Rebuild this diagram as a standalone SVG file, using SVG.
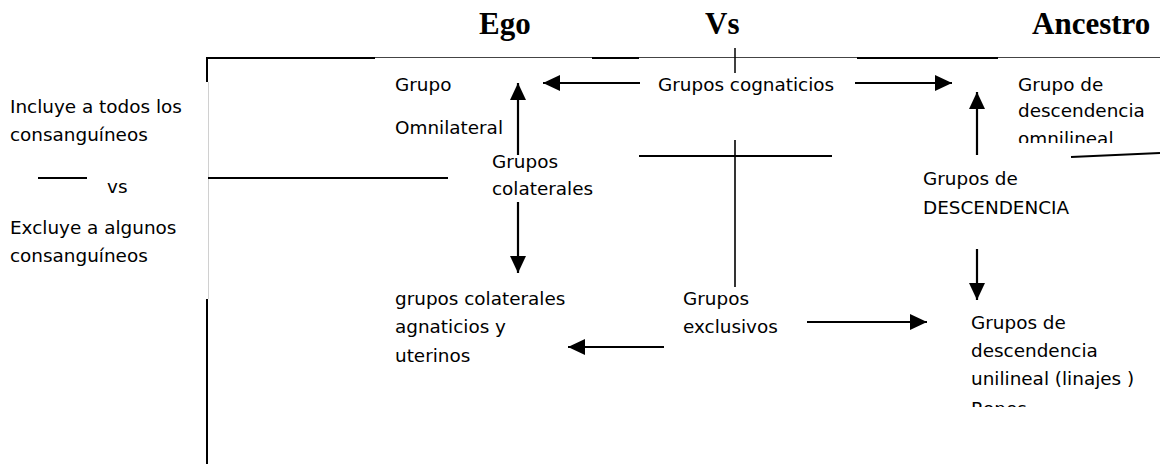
<svg xmlns="http://www.w3.org/2000/svg" width="1160" height="464" viewBox="0 0 1160 464">
<style>
.t{font-family:"DejaVu Sans",sans-serif;font-size:18.4px;fill:#000}
.h{font-family:"Liberation Serif",serif;font-size:31px;font-weight:bold;fill:#000}
.thick{stroke:#000;stroke-width:2;fill:none}
.thin{stroke:#444;stroke-width:1.2;fill:none}
.faint{stroke:#d0d0d0;stroke-width:1;fill:none}
.arr{stroke:#000;stroke-width:2.2;fill:none;marker-end:url(#ah)}
</style>
<defs>
<marker id="ah" markerUnits="userSpaceOnUse" markerWidth="19" markerHeight="17" refX="17" refY="8" orient="auto">
<path d="M0,0 L17,8 L0,16 Z" fill="#000"/>
</marker>
<clipPath id="c1"><rect x="1000" y="60" width="160" height="83"/></clipPath>
<clipPath id="c2"><rect x="960" y="300" width="200" height="107"/></clipPath>
</defs>
<rect width="1160" height="464" fill="#fff"/>

<g id="headers">
<text class="h" x="479" y="34">Ego</text>
<text class="h" x="705" y="34">Vs</text>
<text class="h" x="1032" y="34">Ancestro</text>
</g>

<g id="frame">
<line class="thin" x1="207" y1="57.5" x2="1160" y2="57.5"/>
<line class="thick" x1="207" y1="58" x2="375" y2="58"/>
<line class="thick" x1="592" y1="58" x2="639" y2="58"/>
<line class="thick" x1="857" y1="58" x2="998" y2="58"/>
<line class="thick" x1="207" y1="57" x2="207" y2="82"/>
<line class="faint" x1="208.5" y1="82" x2="208.5" y2="299"/>
<line class="thick" x1="207" y1="299" x2="207" y2="464"/>
<line class="thick" x1="208" y1="178" x2="448" y2="178"/>
<line class="thick" x1="38" y1="178" x2="87" y2="178"/>
<line class="thin" x1="735" y1="48" x2="735" y2="73" style="stroke:#000;stroke-width:1.5"/>
<line class="thick" x1="639" y1="156" x2="832" y2="156"/>
<line class="thin" x1="735" y1="140" x2="735" y2="287" style="stroke:#000;stroke-width:1.6"/>
<line class="thick" x1="1071" y1="157" x2="1160" y2="153"/>
</g>

<g id="left-labels">
<text class="t" x="10" y="113">Incluye a todos los</text>
<text class="t" x="10" y="141">consanguíneos</text>
<text class="t" x="107" y="193">vs</text>
<text class="t" x="10" y="234">Excluye a algunos</text>
<text class="t" x="10" y="262">consanguíneos</text>
</g>

<g id="grupo-omnilateral">
<text class="t" x="395" y="91">Grupo</text>
<text class="t" x="395" y="134">Omnilateral</text>
</g>

<g id="grupos-cognaticios">
<text class="t" x="658" y="91">Grupos cognaticios</text>
</g>

<g id="grupo-descendencia-omnilineal" clip-path="url(#c1)">
<text class="t" x="1018" y="91">Grupo de</text>
<text class="t" x="1018" y="117">descendencia</text>
<text class="t" x="1018" y="145">omnilineal</text>
</g>

<g id="grupos-colaterales">
<text class="t" x="492" y="168">Grupos</text>
<text class="t" x="492" y="195">colaterales</text>
</g>

<g id="grupos-descendencia">
<text class="t" x="923" y="185">Grupos de</text>
<text class="t" x="923" y="214">DESCENDENCIA</text>
</g>

<g id="grupos-colaterales-agnaticios">
<text class="t" x="395" y="305">grupos colaterales</text>
<text class="t" x="395" y="333">agnaticios y</text>
<text class="t" x="395" y="362">uterinos</text>
</g>

<g id="grupos-exclusivos">
<text class="t" x="683" y="305">Grupos</text>
<text class="t" x="683" y="333">exclusivos</text>
</g>

<g id="grupos-descendencia-unilineal" clip-path="url(#c2)">
<text class="t" x="971" y="329">Grupos de</text>
<text class="t" x="971" y="357">descendencia</text>
<text class="t" x="971" y="385">unilineal (linajes )</text>
<text class="t" x="971" y="415">Ropes</text>
</g>

<g id="connectors">
<line class="arr" x1="640" y1="83" x2="543" y2="83"/>
<line class="arr" x1="855" y1="83" x2="952" y2="83"/>
<line class="arr" x1="518" y1="155" x2="518" y2="83"/>
<line class="arr" x1="518" y1="202" x2="518" y2="273"/>
<line class="arr" x1="977" y1="155" x2="977" y2="92"/>
<line class="arr" x1="977" y1="249" x2="977" y2="300"/>
<line class="arr" x1="664" y1="347" x2="568" y2="347"/>
<line class="arr" x1="807" y1="322" x2="927" y2="322"/>
</g>
</svg>
